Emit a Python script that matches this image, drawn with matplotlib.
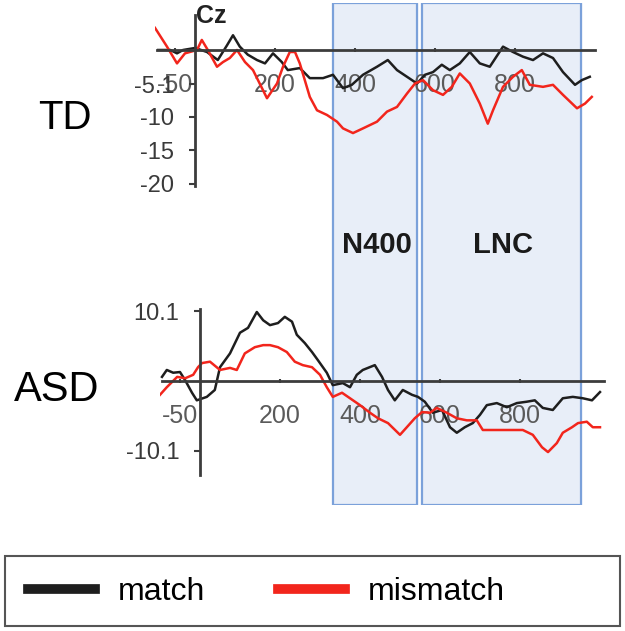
import matplotlib
matplotlib.use('Agg')
import matplotlib.pyplot as plt
from matplotlib.patches import Rectangle

plt.rcParams['font.family'] = ['Liberation Sans', 'DejaVu Sans']

# ERP at Cz, time in ms, amplitude in uV
td_match_t = [-92, -62, -45, -30, 0, 30, 57, 80, 95, 112, 132, 155, 175, 195, 217, 232,
              262, 287, 320, 345, 370, 392, 420, 455, 482, 505, 530, 555, 575, 595, 617,
              637, 662, 687, 712, 737, 770, 795, 820, 845, 870, 895, 920, 950, 967, 987]
td_match_v = [0, 0, -0.5, 0, 0.3, -0.3, -1.5, 0.7, 2.2, 0.5, -0.7, -1.5, -2, -0.5, -1.8, -3,
              -2.7, -4.2, -4.2, -3.7, -5.7, -5.2, -3.7, -2.5, -1.5, -3, -4, -5, -3.7, -3.3, -2.2,
              -3, -2, -0.3, -2, -2.5, 0.5, -0.3, -1, -1.5, -0.5, -1.2, -3.3, -5.2, -4.5, -4]

td_mismatch_t = [-100, -70, -45, -25, 5, 17, 32, 55, 70, 87, 105, 125, 145, 170, 180, 205,
                 220, 237, 250, 262, 287, 305, 330, 355, 370, 395, 420, 455, 480, 505, 530,
                 550, 570, 595, 620, 642, 662, 687, 712, 732, 745, 770, 795, 817, 837, 870,
                 895, 920, 955, 975, 992]
td_mismatch_v = [3.3, 0.5, -2, -0.5, 0, 1.5, 0, -2.5, -1.8, -1.2, 0, -1.8, -3, -6, -7.2, -5,
                 -2.5, -0.3, -0.3, -2, -7, -9, -9.7, -10.7, -11.7, -12.4, -11.7, -10.7, -9.2, -8.5, -6.5,
                 -5, -4.5, -6, -6.7, -5.5, -3.5, -5, -8, -11, -9, -5.5, -4, -3, -5.2, -5.5,
                 -5.2, -6.7, -8.7, -8, -7]

asd_match_t = [-95, -83, -67, -50, -37, -20, -8, 17, 37, 50, 75, 100, 120, 142, 158, 175,
               195, 212, 230, 242, 262, 280, 295, 317, 332, 357, 375, 392, 407, 437, 455,
               470, 487, 507, 530, 545, 562, 582, 605, 625, 642, 662, 682, 700, 717, 742,
               767, 792, 817, 837, 857, 882, 907, 932, 957, 980, 1000]
asd_match_v = [0.6, 1.6, 1.2, 1.3, 0.1, -1.7, -2.8, -2.3, -1.3, 2.0, 4, 7, 7.7, 10, 8.8, 8.1,
               8.4, 9.3, 8.6, 6.7, 5.5, 4.2, 3, 1.2, -0.6, -0.3, -0.9, 0.9, 1.6, 2.3, 0.6,
               -1.3, -2.8, -1.3, -2, -2.3, -3, -4.6, -4.2, -6.7, -7.5, -6.7, -6.1, -4.9, -3.5, -3.2,
               -3.8, -3.2, -3, -2.8, -3.9, -4.2, -2.5, -2.3, -2.5, -2.8, -1.6]

asd_mismatch_t = [-100, -83, -57, -37, -17, -5, 5, 25, 50, 75, 92, 112, 137, 158, 175, 195,
                  217, 237, 257, 280, 300, 317, 332, 355, 375, 400, 425, 445, 470, 500, 517,
                  537, 555, 575, 592, 617, 642, 667, 692, 707, 742, 775, 807, 832, 855, 870,
                  892, 907, 930, 945, 967, 982, 1000]
asd_mismatch_v = [-2, -0.9, 0.6, 0.4, 0.9, 2, 2.6, 2.8, 1.6, 1.9, 1.6, 4, 4.9, 5.2, 5.2, 4.9,
                  4.2, 2.8, 2.3, 2, 0.9, -0.9, -2.3, -1.7, -2.5, -3.5, -4.6, -5.4, -6.1, -7.8, -6.7,
                  -5.4, -4.5, -4.6, -3.9, -4.6, -5.4, -5.7, -5.7, -7.1, -7.1, -7.1, -7.1, -7.8, -9.6, -10.3,
                  -9, -7.5, -6.7, -6.1, -5.9, -6.7, -6.7]

# analysis windows (ms)
windows = [(345, 555, 'N400'), (567, 965, 'LNC')]

x_ticks = [-50, 200, 400, 600, 800]
td_yticks = [-5.1, -10, -15, -20]
asd_yticks = [10.1, -10.1]

black = '#1e1e1e'
red = '#f2251c'
axis_col = '#3c3c3c'

fig = plt.figure(figsize=(6.25, 6.31), dpi=100)

# background axes with the shaded time windows spanning both panels
ax_bg = fig.add_axes([0.248, 0.1997, 0.704, 0.7956])
ax_bg.set_xlim(-100, 1000)
ax_bg.set_ylim(0, 1)
ax_bg.axis('off')
for start, end, name in windows:
    ax_bg.axvspan(start, end, color='#e8eef8', zorder=0)
    ax_bg.add_patch(Rectangle((start, 0), end - start, 1, fill=False,
                              edgecolor='#7ba1da', lw=1.6, zorder=1))
    ax_bg.text((start + end) / 2 + 5, 0.518, name, ha='center', va='center',
               fontsize=21, fontweight='bold', color='#1a1a1a')


def setup_panel(ax, xlim, ylim, yticks, ybounds, xbounds):
    ax.set_xlim(*xlim)
    ax.set_ylim(*ylim)
    ax.patch.set_alpha(0)
    ax.spines['top'].set_visible(False)
    ax.spines['right'].set_visible(False)
    ax.spines['left'].set_position(('data', 0))
    ax.spines['bottom'].set_position(('data', 0))
    ax.spines['left'].set_bounds(*ybounds)
    ax.spines['bottom'].set_bounds(*xbounds)
    for s in ['left', 'bottom']:
        ax.spines[s].set_linewidth(2)
        ax.spines[s].set_color(axis_col)
    ax.set_xticks(x_ticks)
    ax.set_xticklabels([str(t) for t in x_ticks])
    ax.set_yticks(yticks)
    ax.set_yticklabels([str(t) for t in yticks])
    ax.tick_params(axis='x', direction='inout', length=3, width=1.5, color=axis_col,
                   pad=15, labelsize=18, labelcolor='#5a5a5a')
    ax.tick_params(axis='y', direction='out', length=4, width=1.5, color=axis_col,
                   pad=11, labelsize=17, labelcolor='#3a3a3a')


# TD panel
ax1 = fig.add_axes([0.248, 0.6978, 0.704, 0.2973])
setup_panel(ax1, (-100, 1000), (-21, 7), td_yticks, (-20.3, 5.2), (-95, 1000))
ax1.plot(td_match_t, td_match_v, color=black, lw=1.8)
ax1.plot(td_mismatch_t, td_mismatch_v, color=red, lw=1.8)
ax1.text(2, 5.0, 'Cz', ha='left', va='center', fontsize=18, fontweight='bold', color='#222222')

# ASD panel
ax2 = fig.add_axes([0.256, 0.2431, 0.7104, 0.2843])
setup_panel(ax2, (-100, 1010), (-14, 12), asd_yticks, (-13.6, 10.4), (-95, 1010))
l_match, = ax2.plot(asd_match_t, asd_match_v, color=black, lw=1.8)
l_mis, = ax2.plot(asd_mismatch_t, asd_mismatch_v, color=red, lw=1.8)

# group labels
fig.text(65 / 625, 1 - 118 / 631, 'TD', ha='center', va='center', fontsize=29)
fig.text(57 / 625, 1 - 390 / 631, 'ASD', ha='center', va='center', fontsize=30)

# legend in its own frame at the bottom
leg = fig.legend([l_match, l_mis], ['match', 'mismatch'], loc='center left',
                 bbox_to_anchor=(28 / 625, 1 - 592 / 631), ncol=2, frameon=False,
                 borderpad=0, borderaxespad=0, fontsize=23, handlelength=2.1,
                 handletextpad=0.7, columnspacing=2.3)
for h in leg.get_lines():
    h.set_linewidth(7)
fig.patches.append(Rectangle((5 / 625, 5 / 631), 615 / 625, 70 / 631, fill=False,
                             edgecolor='#555555', lw=1.5, transform=fig.transFigure, figure=fig))

fig.savefig('out.png', dpi=100)
